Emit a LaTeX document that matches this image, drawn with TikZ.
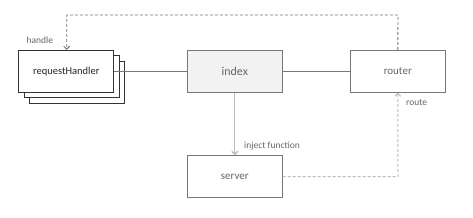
\documentclass[tikz,border=0pt]{standalone}
\usepackage{fontspec}
\setmainfont{Carlito}
\usetikzlibrary{arrows.meta}
\definecolor{boxgray}{HTML}{777777}
\definecolor{txtgray}{HTML}{666666}
\definecolor{lightln}{HTML}{BBBBBB}
\definecolor{fillgray}{HTML}{F2F2F2}
\tikzset{
  box/.style={draw=boxgray, line width=0.8pt, minimum width=95pt, minimum height=42pt, inner sep=0pt, text=txtgray, font=\fontsize{11}{13}\selectfont, fill=white},
  rhbox/.style={draw=black!80, line width=0.8pt, minimum width=95pt, minimum height=42pt, inner sep=0pt, fill=white},
  lbl/.style={text=txtgray, font=\fontsize{9.5}{11}\selectfont, inner sep=0pt},
  tip/.style={-{Straight Barb[length=3pt,width=6pt]}},
  dsh/.style={dash pattern=on 3pt off 2pt},
}
\begin{document}
\begin{tikzpicture}[x=1pt,y=-1pt]
\useasboundingbox (0,0) rectangle (473,217);
% stacked requestHandler
\node[rhbox] (rh3) at (76.8,82.2) {};
\node[rhbox] (rh2) at (71.7,76.5) {};
\node[rhbox, text=black!85, font=\fontsize{10.5}{13}\selectfont] (rh) at (66.3,71.2) {requestHandler};
\node[box, fill=fillgray, font=\fontsize{12}{14}\selectfont] (index) at (234.8,71.2) {index};
\node[box] (router) at (397.8,71.2) {router};
\node[box] (server) at (234.8,176.6) {server};
% solid connectors
\draw[boxgray, line width=0.8pt] (rh.east) -- (index.west);
\draw[boxgray, line width=0.8pt] (index.east) -- (router.west);
\draw[lightln, line width=1.3pt, tip] (index.south) -- (server.north);
\node[lbl, anchor=west] (injl) at (244,146) {inject function};
% dashed server -> router
\coordinate (c1) at (398,176.6);
\draw[lightln, line width=1pt, dsh, tip] (server.east) -- (c1) -- (router.south);
\node[lbl, anchor=west] (routel) at (406,103) {route};
% dashed router -> requestHandler
\coordinate (c2) at (398,15);
\coordinate (c3) at (66.7,15);
\draw[boxgray, line width=0.9pt, dsh, tip] (router.north) -- (c2) -- (c3) -- (rh.north -| c3);
\node[lbl, anchor=west] (handlel) at (26.5,40) {handle};
\end{tikzpicture}
\end{document}
